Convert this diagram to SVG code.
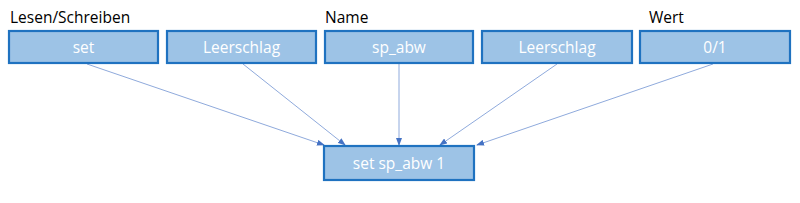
<svg xmlns="http://www.w3.org/2000/svg" width="800" height="203" viewBox="0 0 800 203">
<style>
.box{fill:#9DC3E6;stroke:#1F72C0;stroke-width:2.2}
.bt{font-family:"Open Sans","Liberation Sans",sans-serif;font-size:15.5px;fill:#FFFFFF;text-anchor:middle}
.lb{font-family:"Open Sans","Liberation Sans",sans-serif;font-size:15.5px;fill:#000000}
.ln{stroke:#8FAADC;stroke-width:1;fill:none;marker-end:url(#ah)}
</style>
<defs>
<marker id="ah" markerWidth="8" markerHeight="6" refX="7" refY="3" orient="auto" markerUnits="userSpaceOnUse">
<path d="M0,0 L8,3 L0,6 Z" fill="#4472C4"/>
</marker>
</defs>
<rect width="800" height="203" fill="#FFFFFF"/>
<g id="labels">
<text class="lb" x="10" y="23">Lesen/Schreiben</text>
<text class="lb" x="325" y="23">Name</text>
<text class="lb" x="649" y="23">Wert</text>
</g>
<g id="connectors">
<line class="ln" x1="87" y1="64" x2="324" y2="145"/>
<line class="ln" x1="243" y1="64" x2="345" y2="145"/>
<line class="ln" x1="399" y1="64" x2="399" y2="145"/>
<line class="ln" x1="557" y1="64" x2="440" y2="145"/>
<line class="ln" x1="713" y1="64" x2="477" y2="145"/>
</g>
<g id="n1"><rect class="box" x="9" y="31" width="149" height="32"/><text class="bt" x="83.5" y="53">set</text></g>
<g id="n2"><rect class="box" x="167" y="31" width="149" height="32"/><text class="bt" x="241.5" y="53">Leerschlag</text></g>
<g id="n3"><rect class="box" x="325" y="31" width="148" height="32"/><text class="bt" x="399" y="53">sp_abw</text></g>
<g id="n4"><rect class="box" x="482" y="31" width="150" height="32"/><text class="bt" x="557" y="53">Leerschlag</text></g>
<g id="n5"><rect class="box" x="640" y="31" width="150" height="32"/><text class="bt" x="715" y="53">0/1</text></g>
<g id="n6"><rect class="box" x="324" y="146" width="150" height="34"/><text class="bt" x="399" y="169">set sp_abw 1</text></g>
</svg>
